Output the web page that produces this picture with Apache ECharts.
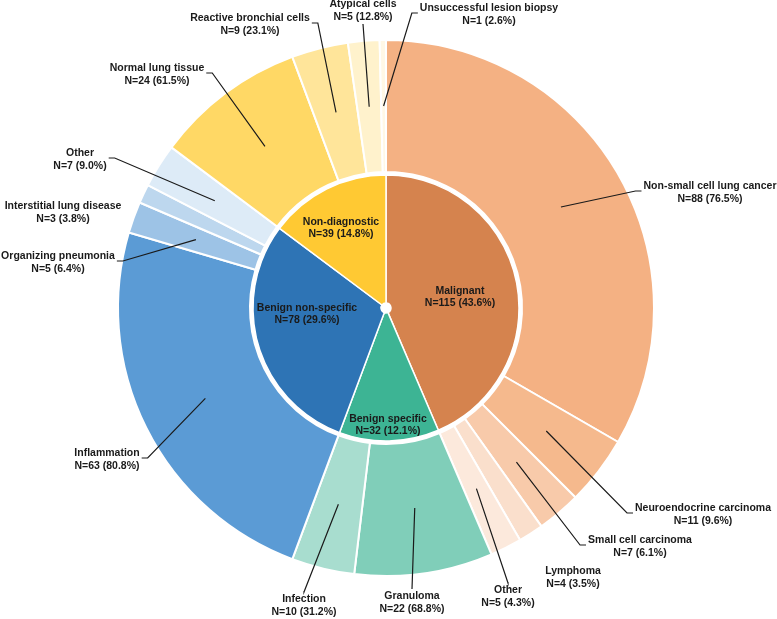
<!DOCTYPE html>
<html>
<head>
<meta charset="utf-8">
<script src="https://cdn.jsdelivr.net/npm/echarts@6/dist/echarts.min.js"></script>
<style>
  html, body { margin: 0; padding: 0; background: #fff; }
  #chart { width: 777px; height: 619px; }
</style>
</head>
<body>
<div id="chart"></div>
<script>
// inner ring: diagnostic groups
const groupNames = ["Malignant", "Benign specific", "Benign non-specific", "Non-diagnostic"];
const groupCounts = [115, 32, 78, 39];
const groupPcts = ["43.6", "12.1", "29.6", "14.8"];
const groupColors = ["#D5834E", "#3DB494", "#2E74B5", "#FFC933"];

// outer ring: sub-diagnoses, in the same order as the groups
const subNames = [
    "Non-small cell lung cancer", "Neuroendocrine carcinoma", "Small cell carcinoma", "Lymphoma", "Other",
    "Granuloma", "Infection",
    "Inflammation", "Organizing pneumonia", "Interstitial lung disease", "Other",
    "Normal lung tissue", "Reactive bronchial cells", "Atypical cells", "Unsuccessful lesion biopsy"
];
const subCounts = [88, 11, 7, 4, 5, 22, 10, 63, 5, 3, 7, 24, 9, 5, 1];
const subPcts = ["76.5", "9.6", "6.1", "3.5", "4.3", "68.8", "31.2", "80.8", "6.4", "3.8", "9.0", "61.5", "23.1", "12.8", "2.6"];
const subColors = [
    "#F4B183", "#F5B98D", "#F8CAAA", "#FADFCC", "#FCE9DC",
    "#80CEB9", "#A8DDCF",
    "#5B9BD5", "#9DC3E6", "#BDD7EE", "#DDEBF7",
    "#FFD865", "#FFE59A", "#FFF2CC", "#FFF8E6"
];

// label placement (text block centre, side where the leader line attaches)
const outerLabelSpots = [
    [710, 193, "l"], [703, 515, "l"], [640, 547, "l"], [573, 578, null], [508, 597, "t"],
    [412, 603, "t"], [304, 606, "t"],
    [107, 460, "r"], [58, 263, "r"], [63, 213, null], [80, 160, "r"],
    [157, 75, "r"], [250, 25, "r"], [363, 11, "b"], [489, 15, "l"]
];
const innerLabelSpots = [[460, 297], [388, 425], [307, 314], [341, 228]];

const center = [386, 308];
const innerRadius = [5, 133];
const outerRadius = [136, 268];
const lineRadius = (outerRadius[0] + outerRadius[1]) / 2;
const textColor = "#1a1a1a";
const fontFamily = "'Liberation Sans', Arial, sans-serif";

// mid angle of every outer slice (clockwise from 12 o'clock)
const subTotal = subCounts.reduce((a, b) => a + b, 0);
const midAngles = [];
let acc = 0;
subCounts.forEach((v) => {
    midAngles.push((acc + v / 2) / subTotal * 2 * Math.PI);
    acc += v;
});

// leader lines get collected while labels are laid out, drawn afterwards
const leaderLines = [];

const chart = echarts.init(document.getElementById("chart"));

function outerLayout(params) {
    const i = params.dataIndex;
    const spot = outerLabelSpots[i];
    const w = params.labelRect.width;
    const h = params.labelRect.height;
    const cx = spot[0], cy = spot[1], side = spot[2];
    if (side) {
        const a = midAngles[i];
        const start = [center[0] + lineRadius * Math.sin(a), center[1] - lineRadius * Math.cos(a)];
        const top = cy - h / 2;
        let end, elbow;
        if (side === "l") {
            end = [cx - w / 2 - 2, top + 11];
            elbow = [end[0] - 6, end[1]];
        } else if (side === "r") {
            end = [cx + w / 2 + 2, top + 11];
            elbow = [end[0] + 6, end[1]];
        } else if (side === "t") {
            end = [cx, top - 2];
            elbow = [cx, top - 1];
        } else {
            end = [cx, top + h + 1];
            elbow = [cx, top + h];
        }
        leaderLines[i] = [start, elbow, end];
    }
    return {x: cx, y: cy, align: "center", verticalAlign: "middle"};
}

function innerLayout(params) {
    const spot = innerLabelSpots[params.dataIndex];
    return {x: spot[0], y: spot[1], align: "center", verticalAlign: "middle"};
}

const innerData = groupNames.map((name, i) => ({
    name: name,
    value: groupCounts[i],
    itemStyle: {color: groupColors[i]},
}));

const outerData = subNames.map((name, i) => ({
    name: name,
    value: subCounts[i],
    itemStyle: {color: subColors[i]},
}));

const option = {
    backgroundColor: "#fff",
    animation: false,
    series: [
        {
            type: "pie",
            center: center,
            radius: innerRadius,
            startAngle: 90,
            clockwise: true,
            avoidLabelOverlap: false,
            data: innerData,
            itemStyle: {borderColor: "#fff", borderWidth: 1.5},
            label: {
                show: true,
                position: "inside",
                color: textColor,
                fontFamily: fontFamily,
                fontWeight: "bold",
                fontSize: 10.5,
                lineHeight: 12,
                formatter: (p) => p.name + "\nN=" + p.value + " (" + groupPcts[p.dataIndex] + "%)",
            },
            labelLayout: innerLayout,
            emphasis: {disabled: true},
        },
        {
            type: "pie",
            center: center,
            radius: outerRadius,
            startAngle: 90,
            clockwise: true,
            avoidLabelOverlap: false,
            data: outerData,
            itemStyle: {borderColor: "#fff", borderWidth: 2},
            label: {
                show: true,
                position: "outside",
                color: textColor,
                fontFamily: fontFamily,
                fontWeight: "bold",
                fontSize: 10.5,
                lineHeight: 13,
                align: "center",
                formatter: (p) => p.name + "\nN=" + p.value + " (" + subPcts[p.dataIndex] + "%)",
            },
            labelLine: {show: false},
            labelLayout: outerLayout,
            emphasis: {disabled: true},
        },
    ],
};

chart.setOption(option);

chart.setOption({
    graphic: leaderLines.filter(Boolean).map((pts) => ({
        type: "polyline",
        silent: true,
        z: 100,
        shape: {points: pts},
        style: {stroke: textColor, lineWidth: 1.2, fill: null},
    })),
});
</script>
</body>
</html>
